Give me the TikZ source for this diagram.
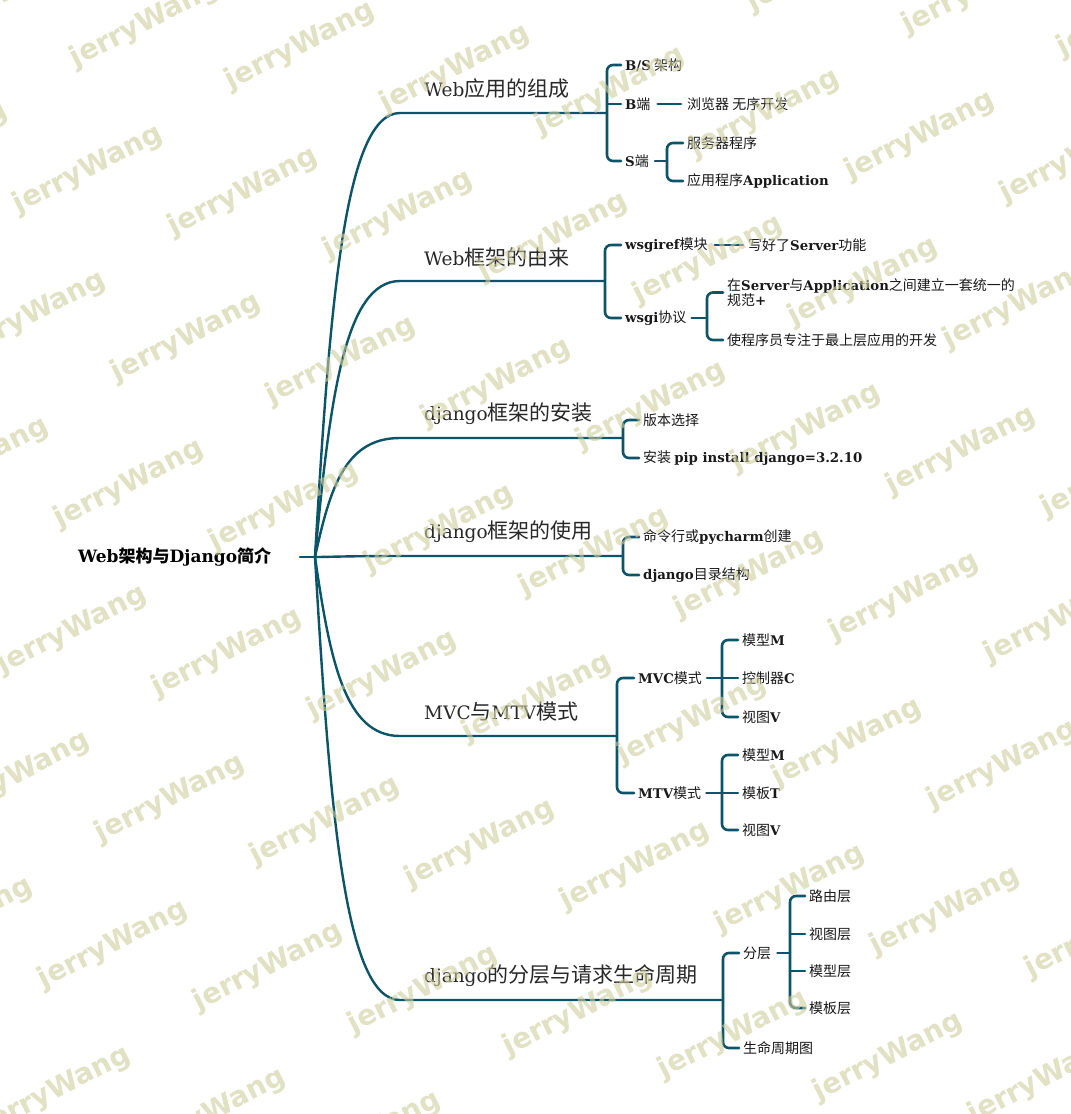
\documentclass[tikz,border=0pt]{standalone}
\usepackage{fontspec}
\setmainfont{DejaVu Serif}
\newfontfamily\cjkf{Noto Sans CJK SC}
\newfontfamily\latf{DejaVu Serif}
\newfontfamily\wmf{DejaVu Sans}
\newcommand\latb[1]{{\latf\bfseries\fontsize{13.3}{15}\selectfont #1}}
\newcommand\latr[1]{{\latf\bfseries\fontsize{17}{19}\selectfont #1}}
\newcommand\latl[1]{{\latf\fontsize{18.5}{24}\selectfont #1}}
\definecolor{linec}{RGB}{12,84,104}
\definecolor{wmc}{RGB}{205,205,158}
\definecolor{leafc}{RGB}{25,25,25}
\definecolor{topc}{RGB}{40,40,40}
\begin{document}
\begin{tikzpicture}[x=1pt,y=-1pt,
  conn/.style={draw=linec, line width=2.6pt, line cap=round},
  mainc/.style={draw=linec, line width=2.4pt, line cap=round},
  brk/.style={conn, rounded corners=6pt},
  leafl/.style={anchor=west, inner sep=0pt, text=leafc, font=\cjkf\fontsize{14}{15}\selectfont},
  toplbl/.style={anchor=west, inner sep=0pt, text=topc, font=\cjkf\fontsize{21}{24}\selectfont},
  rootl/.style={anchor=west, inner sep=0pt, text=black, font=\cjkf\bfseries\fontsize{17}{19}\selectfont},
  wm/.style={text=wmc, text opacity=0.6, font=\wmf\bfseries\fontsize{28}{30}\selectfont, rotate=27, inner sep=0pt}]
\useasboundingbox (0,0) rectangle (1071,1114);
\fill[white] (0,0) rectangle (1071,1114);

% ---------- root ----------
\node[rootl] (root) at (78,557) {\latr{Web}架构与\latr{Django}简介};
\coordinate (rs) at (300,557);
\coordinate (R) at (315,557);
\draw[mainc] (rs) -- (R);

% ---------- main branches ----------
\coordinate (h1) at (400,113); \coordinate (j1) at (607,113);
\coordinate (h2) at (400,281); \coordinate (j2) at (605,281);
\coordinate (h3) at (400,438); \coordinate (j3) at (623,438);
\coordinate (h4) at (400,556); \coordinate (j4) at (623,556);
\coordinate (h5) at (400,736); \coordinate (j5) at (617,736);
\coordinate (h6) at (400,1000); \coordinate (j6) at (723,1000);
\draw[mainc] (R) .. controls (330,300) and (345,113) .. (h1) -- (j1);
\draw[mainc] (R) .. controls (330,397) and (345,281) .. (h2) -- (j2);
\draw[mainc] (R) .. controls (330,488) and (345,438) .. (h3) -- (j3);
\draw[mainc] (R) .. controls (330,557) and (345,556) .. (h4) -- (j4);
\draw[mainc] (R) .. controls (330,661) and (345,736) .. (h5) -- (j5);
\draw[mainc] (R) .. controls (330,814) and (345,1000) .. (h6) -- (j6);

\node[toplbl] (b1) at (424,89) {\latl{Web}应用的组成};
\node[toplbl] (b2) at (424,257) {\latl{Web}框架的由来};
\node[toplbl] (b3) at (424,414) {\latl{django}框架的安装};
\node[toplbl] (b4) at (424,532) {\latl{django}框架的使用};
\node[toplbl] (b5) at (424,712) {\latl{MVC}与\latl{MTV}模式};
\node[toplbl] (b6) at (424,976) {\latl{django}的分层与请求生命周期};

% ---------- branch 1 ----------
\node[leafl] (bs) at (625,65) {\latb{B/S} 架构};
\node[leafl] (bd) at (625,104) {\latb{B}端};
\node[leafl] (sd) at (625,161) {\latb{S}端};
\draw[brk] ([xshift=-4pt]bs.west) -| (j1) |- ([xshift=-4pt]sd.west);
\draw[conn] (j1 |- bd.west) -- ([xshift=-4pt]bd.west);
\node[leafl] (bro) at (687,104) {浏览器 无序开发};
\draw[conn] ([xshift=7pt]bd.east) -- ([xshift=-6pt]bro.west);
\coordinate (js) at (667,161);
\draw[conn] ([xshift=6pt]sd.east) -- (js);
\node[leafl] (srv) at (687,143) {服务器程序};
\node[leafl] (app) at (687,181) {应用程序\latb{Application}};
\draw[brk] ([xshift=-4pt]srv.west) -| (js) |- ([xshift=-4pt]app.west);

% ---------- branch 2 ----------
\node[leafl] (wr) at (625,245) {\latb{wsgiref}模块};
\node[leafl] (wp) at (625,318) {\latb{wsgi}协议};
\draw[brk] ([xshift=-4pt]wr.west) -| (j2) |- ([xshift=-4pt]wp.west);
\node[leafl] (srvf) at (748,245) {写好了\latb{Server}功能};
\draw[conn] ([xshift=7pt]wr.east) -- ([xshift=-5pt]srvf.west);
\coordinate (jw) at (707,318);
\draw[conn] ([xshift=5pt]wp.east) -- (jw);
\node[leafl, align=left] (spec) at (727,292.5) {在\latb{Server}与\latb{Application}之间建立一套统一的\\规范\latb{+}};
\node[leafl] (dev) at (727,340) {使程序员专注于最上层应用的开发};
\draw[brk] ([xshift=-4pt]spec.west) -| (jw) |- ([xshift=-4pt]dev.west);

% ---------- branch 3 ----------
\node[leafl] (ver) at (643,420) {版本选择};
\node[leafl] (ins) at (643,458) {安装 \latb{pip install django=3.2.10}};
\draw[brk] ([xshift=-4pt]ver.west) -| (j3) |- ([xshift=-4pt]ins.west);

% ---------- branch 4 ----------
\node[leafl] (cmd) at (643,537) {命令行或\latb{pycharm}创建};
\node[leafl] (dir) at (643,575) {\latb{django}目录结构};
\draw[brk] ([xshift=-4pt]cmd.west) -| (j4) |- ([xshift=-4pt]dir.west);

% ---------- branch 5 ----------
\node[leafl] (mvc) at (638,678) {\latb{MVC}模式};
\node[leafl] (mtv) at (638,793) {\latb{MTV}模式};
\draw[brk] ([xshift=-4pt]mvc.west) -| (j5) |- ([xshift=-4pt]mtv.west);
\coordinate (jm1) at (722,678);
\draw[conn] ([xshift=5pt]mvc.east) -- (jm1);
\node[leafl] (m1) at (742,640) {模型\latb{M}};
\node[leafl] (c1) at (742,678) {控制器\latb{C}};
\node[leafl] (v1) at (742,717) {视图\latb{V}};
\draw[brk] ([xshift=-4pt]m1.west) -| (jm1) |- ([xshift=-4pt]v1.west);
\draw[conn] (jm1) -- ([xshift=-4pt]c1.west);
\coordinate (jm2) at (722,793);
\draw[conn] ([xshift=5pt]mtv.east) -- (jm2);
\node[leafl] (m2) at (742,755) {模型\latb{M}};
\node[leafl] (t2) at (742,793) {模板\latb{T}};
\node[leafl] (v2) at (742,830) {视图\latb{V}};
\draw[brk] ([xshift=-4pt]m2.west) -| (jm2) |- ([xshift=-4pt]v2.west);
\draw[conn] (jm2) -- ([xshift=-4pt]t2.west);

% ---------- branch 6 ----------
\node[leafl] (fc) at (743,953) {分层};
\node[leafl] (lc) at (743,1048) {生命周期图};
\draw[brk] ([xshift=-4pt]fc.west) -| (j6) |- ([xshift=-4pt]lc.west);
\coordinate (jf) at (790,953);
\draw[conn] ([xshift=6pt]fc.east) -- (jf);
\node[leafl] (l1) at (809,896) {路由层};
\node[leafl] (l2) at (809,934) {视图层};
\node[leafl] (l3) at (809,971) {模型层};
\node[leafl] (l4) at (809,1008) {模板层};
\draw[brk] ([xshift=-4pt]l1.west) -| (jf) |- ([xshift=-4pt]l4.west);
\draw[conn] (jf |- l2.west) -- ([xshift=-4pt]l2.west);
\draw[conn] (jf |- l3.west) -- ([xshift=-4pt]l3.west);

% ---------- watermark ----------
\foreach \i in {-3,...,9} {
  \foreach \k in {-2,...,9} {
    \pgfmathsetmacro\wx{243+155*\i-57*\k}
    \pgfmathsetmacro\wy{192+22.5*\i+146*\k}
    \pgfmathtruncatemacro\inside{and(and(\wx>-80,\wx<1150),and(\wy>-45,\wy<1160))}
    \ifnum\inside=1
      \node[wm] (wm\i x\k) at (\wx,\wy) {jerryWang};
    \fi
  }
}
\end{tikzpicture}
\end{document}
